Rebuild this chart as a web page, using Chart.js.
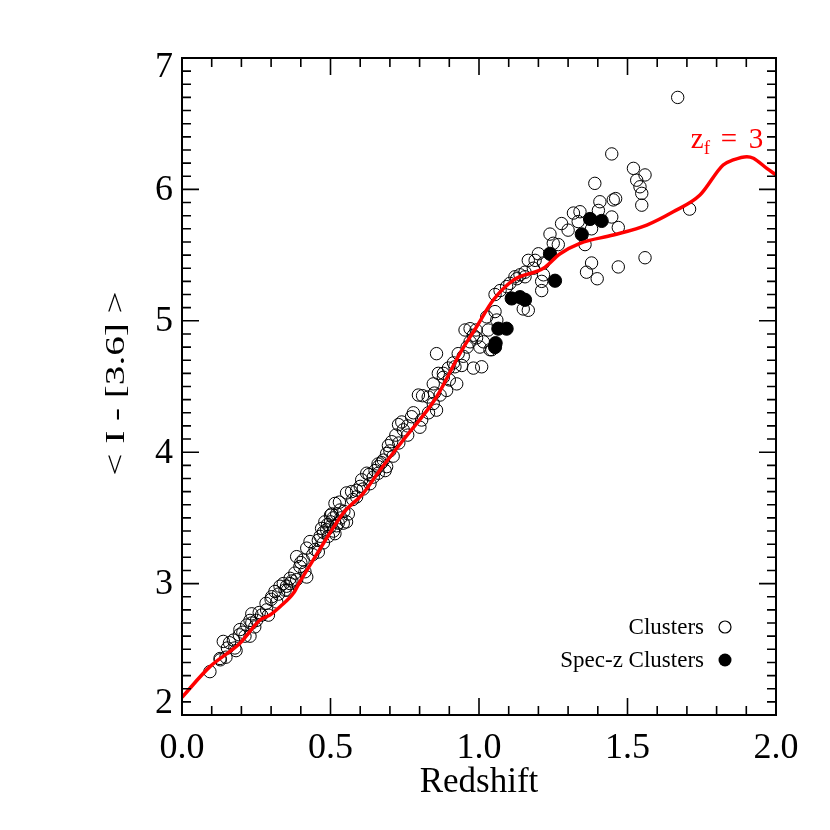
<!DOCTYPE html>
<html>
<head>
<meta charset="utf-8">
<script src="https://cdn.jsdelivr.net/npm/chart.js@4/dist/chart.umd.min.js"></script>
<style>
  html, body { margin: 0; padding: 0; background: #fff; }
</style>
</head>
<body>
<canvas id="myChart" width="830" height="830"></canvas>
<script>
'use strict';

// red model track, z_f = 3
let zLine = [0, 0.094, 0.195, 0.263, 0.296, 0.33, 0.375, 0.397, 0.442, 0.498, 0.543, 0.61, 0.667, 0.745, 0.857, 0.936, 0.992, 1.048, 1.116, 1.217, 1.273, 1.34, 1.452, 1.565, 1.654, 1.744, 1.822, 1.856, 1.902, 1.924, 1.969, 2.0];
let cLine = [2.135, 2.368, 2.546, 2.723, 2.761, 2.824, 2.926, 3.014, 3.18, 3.385, 3.537, 3.687, 3.865, 4.093, 4.42, 4.753, 4.955, 5.158, 5.31, 5.40, 5.51, 5.59, 5.653, 5.729, 5.83, 5.957, 6.186, 6.224, 6.249, 6.237, 6.16, 6.11];

// open circles
let zOpen = [0.094, 0.128, 0.148, 0.129, 0.139, 0.153, 0.173, 0.178, 0.182, 0.193, 0.195, 0.212, 0.229, 0.218, 0.235, 0.229, 0.235, 0.251, 0.268, 0.285,
  0.291, 0.283, 0.302, 0.319, 0.313, 0.330, 0.341, 0.347, 0.352, 0.364, 0.364, 0.380, 0.386, 0.397, 0.386, 0.408, 0.414, 0.42, 0.42, 0.448,
  0.431, 0.459, 0.476, 0.487, 0.481, 0.498, 0.509, 0.521, 0.504, 0.532, 0.526, 0.543, 0.554, 0.56, 0.493, 0.515, 0.476, 0.459, 0.515, 0.53,
  0.554, 0.571, 0.588, 0.588, 0.605, 0.622, 0.633, 0.644, 0.661, 0.672, 0.689, 0.661, 0.684, 0.678, 0.695, 0.706, 0.689, 0.711, 0.729, 0.74,
  0.745, 0.76, 0.773, 0.779, 0.801, 0.807, 0.796, 0.81, 0.829, 0.846, 0.857, 0.869, 0.846, 0.863, 0.88, 0.891, 0.919, 0.925, 0.88, 0.897,
  0.914, 0.942, 0.947, 0.981, 1.009, 0.857, 0.953, 0.97, 0.981, 0.992, 0.97, 1.003, 1.015, 1.031, 1.026, 1.054, 1.06, 1.043, 1.037, 1.054,
  1.071, 1.093, 1.104, 1.121, 1.138, 1.155, 1.166, 1.149, 1.166, 1.127, 1.155, 1.183, 1.189, 1.20, 1.217, 1.211, 1.211, 1.217, 1.25, 1.267,
  1.239, 1.278, 1.30, 1.318, 1.334, 1.34, 1.357, 1.379, 1.407, 1.402, 1.447, 1.469, 1.452, 1.46, 1.39, 1.447, 1.52, 1.559, 1.531, 1.542,
  1.548, 1.548, 1.379, 1.362, 1.398, 1.469, 1.559, 1.709, 1.669,
  0.50, 0.51, 0.52, 0.49, 0.50, 0.47, 0.535, 0.355, 0.37, 0.61, 0.63, 0.65, 0.72, 0.73, 0.76, 0.83, 0.85, 0.90, 0.93, 0.96, 0.99,
  0.16, 0.205, 0.245, 0.26, 0.30, 0.325, 0.40, 0.44, 0.465, 0.545, 0.575, 0.60, 0.66, 0.70];
let cOpen = [2.33, 2.43, 2.44, 2.42, 2.56, 2.51, 2.57, 2.51, 2.49, 2.61, 2.65, 2.60, 2.60, 2.685, 2.70, 2.72, 2.77, 2.72, 2.76, 2.80,
  2.76, 2.85, 2.90, 2.86, 2.94, 2.98, 3.00, 2.95, 2.98, 3.00, 3.04, 3.08, 3.03, 3.13, 3.205, 3.18, 3.09, 3.05, 3.27, 3.26,
  3.32, 3.33, 3.39, 3.41, 3.47, 3.43, 3.50, 3.53, 3.53, 3.56, 3.46, 3.46, 3.47, 3.53, 3.36, 3.38, 3.31, 3.24, 3.61, 3.62,
  3.69, 3.70, 3.71, 3.66, 3.79, 3.84, 3.76, 3.81, 3.84, 3.92, 3.89, 3.89, 3.86, 3.94, 4.05, 4.08, 3.99, 3.97, 4.21, 4.23,
  4.17, 4.20, 4.27, 4.30, 4.19, 4.245, 4.435, 4.43, 4.42, 4.37, 4.32, 4.435, 4.52, 4.60, 4.57, 4.47, 4.65, 4.52, 4.60, 4.64,
  4.68, 4.66, 4.73, 4.64, 4.65, 4.75, 4.93, 4.94, 4.89, 4.87, 4.84, 4.80, 4.84, 4.93, 5.03, 5.07, 5.006, 4.78, 4.78, 5.20,
  5.23, 5.26, 5.285, 5.335, 5.35, 5.335, 5.46, 5.09, 5.08, 5.32, 5.37, 5.40, 5.46, 5.51, 5.44, 5.30, 5.23, 5.35, 5.59, 5.58,
  5.66, 5.74, 5.69, 5.82, 5.755, 5.83, 5.58, 5.70, 5.906, 5.84, 5.79, 5.71, 5.92, 5.93, 6.046, 6.27, 6.16, 6.11, 6.07, 6.02,
  5.97, 5.88, 5.44, 5.37, 5.32, 5.41, 5.48, 5.85, 6.70,
  3.47, 3.40, 3.44, 3.45, 3.52, 3.42, 3.50, 2.95, 3.02, 3.72, 3.83, 3.86, 4.13, 4.07, 4.13, 4.30, 4.45, 4.55, 4.75, 4.80, 4.93,
  2.55, 2.63, 2.67, 2.78, 2.88, 2.92, 3.16, 3.22, 3.36, 3.55, 3.64, 3.74, 3.91, 4.01];

// filled circles
let zSpec = [1.054, 1.056, 1.065, 1.093, 1.11, 1.138, 1.155, 1.256, 1.239, 1.346, 1.374, 1.413];
let cSpec = [4.80, 4.83, 4.94, 4.94, 5.17, 5.18, 5.16, 5.305, 5.51, 5.658, 5.775, 5.76];

let xTicks = [0, 0.5, 1.0, 1.5, 2.0];
let yTicks = [2, 3, 4, 5, 6, 7];

let serif = '"Liberation Serif", "DejaVu Serif", serif';

function pairs(xs, ys) {
    let out = [];
    for (let i = 0; i < xs.length; i++) {
        out.push({ x: xs[i], y: ys[i] });
    }
    return out;
}

// frame, inward ticks on all four sides, y labels, legend and the z_f label
const framePlugin = {
    id: 'frame',
    afterDraw(chart) {
        const ctx = chart.ctx;
        const a = chart.chartArea;
        const xs = chart.scales.x;
        const ys = chart.scales.y;
        ctx.save();
        ctx.strokeStyle = '#000';
        ctx.lineWidth = 2;
        ctx.strokeRect(a.left, a.top, a.right - a.left, a.bottom - a.top);

        ctx.lineWidth = 1.6;
        ctx.beginPath();
        for (let i = 0; i <= 20; i++) {
            let px = xs.getPixelForValue(i / 10);
            let len = (i % 5 === 0) ? 17 : 9;
            ctx.moveTo(px, a.bottom); ctx.lineTo(px, a.bottom - len);
            ctx.moveTo(px, a.top); ctx.lineTo(px, a.top + len);
        }
        for (let i = 0; i <= 50; i++) {
            let py = ys.getPixelForValue(2 + i / 10);
            let len = (i % 10 === 0) ? 17 : 9;
            ctx.moveTo(a.left, py); ctx.lineTo(a.left + len, py);
            ctx.moveTo(a.right, py); ctx.lineTo(a.right - len, py);
        }
        ctx.stroke();

        // y tick labels, end ones kept inside the frame height
        ctx.fillStyle = '#000';
        ctx.font = '36px ' + serif;
        ctx.textAlign = 'right';
        ctx.textBaseline = 'middle';
        for (let v of yTicks) {
            let py = ys.getPixelForValue(v);
            if (v === 7) py += 9;
            if (v === 2) py -= 12;
            ctx.fillText(String(v), a.left - 9, py + 1);
        }

        // y title, drawn a bit stretched along its line like the original
        ctx.save();
        ctx.translate(117, (a.top + a.bottom) / 2 - 3);
        ctx.rotate(-Math.PI / 2);
        ctx.scale(1.45, 1);
        ctx.font = '27px ' + serif;
        ctx.textAlign = 'center';
        ctx.textBaseline = 'middle';
        ctx.fillText('< I - [3.6] >', 0, 0);
        ctx.restore();

        // legend
        ctx.font = '23px ' + serif;
        ctx.textAlign = 'right';
        ctx.textBaseline = 'middle';
        ctx.fillText('Clusters', 704, 628);
        ctx.fillText('Spec-z Clusters', 704, 661);
        ctx.lineWidth = 1.2;
        ctx.beginPath();
        ctx.arc(725, 627, 6, 0, Math.PI * 2);
        ctx.stroke();
        ctx.beginPath();
        ctx.arc(725, 660, 6.5, 0, Math.PI * 2);
        ctx.fill();

        // model label
        ctx.fillStyle = '#f00';
        ctx.textAlign = 'left';
        ctx.textBaseline = 'alphabetic';
        let lx = xs.getPixelForValue(1.713);
        let ly = ys.getPixelForValue(6.315);
        ctx.font = '29px ' + serif;
        ctx.fillText('z', lx, ly);
        ctx.font = '19px ' + serif;
        ctx.fillText('f', lx + 13, ly + 6);
        ctx.font = '29px ' + serif;
        ctx.fillText('=', lx + 30, ly);
        ctx.fillText('3', lx + 58, ly);
        ctx.restore();
    }
};

const data = {
    datasets: [{
        type: 'line',
        label: 'z_f = 3',
        data: pairs(zLine, cLine),
        borderColor: '#ff0000',
        borderWidth: 3.5,
        pointRadius: 0,
        cubicInterpolationMode: 'monotone',
        fill: false
    }, {
        type: 'scatter',
        label: 'Spec-z Clusters',
        data: pairs(zSpec, cSpec),
        pointRadius: 6.6,
        pointBackgroundColor: '#000',
        pointBorderColor: '#000',
        pointBorderWidth: 1
    }, {
        type: 'scatter',
        label: 'Clusters',
        data: pairs(zOpen, cOpen),
        pointRadius: 6.2,
        pointBackgroundColor: 'rgba(0,0,0,0)',
        pointBorderColor: '#000',
        pointBorderWidth: 1
    }]
};

const config = {
    type: 'scatter',
    data,
    plugins: [framePlugin],
    options: {
        responsive: false,
        animation: false,
        layout: { padding: { left: 0, right: 54, top: 58, bottom: 26 } },
        plugins: {
            legend: { display: false },
            tooltip: { enabled: false }
        },
        scales: {
            x: {
                type: 'linear',
                min: 0,
                max: 2,
                afterFit(scale) { scale.height = 89; },
                grid: { display: false, drawTicks: false },
                border: { display: false },
                afterBuildTicks(scale) { scale.ticks = xTicks.map(v => ({ value: v })); },
                ticks: {
                    color: '#000',
                    padding: 12,
                    maxRotation: 0,
                    font: { family: serif, size: 36 },
                    callback: v => v.toFixed(1)
                },
                title: {
                    display: true,
                    text: 'Redshift',
                    color: '#000',
                    padding: { top: 0, bottom: 0 },
                    font: { family: serif, size: 35 }
                }
            },
            y: {
                type: 'linear',
                min: 2,
                max: 7,
                afterFit(scale) { scale.width = 182; },
                grid: { display: false, drawTicks: false },
                border: { display: false },
                afterBuildTicks(scale) { scale.ticks = yTicks.map(v => ({ value: v })); },
                ticks: { display: false }
            }
        }
    }
};

var myChart = new Chart(
    document.getElementById('myChart'),
    config
);
</script>
</body>
</html>
